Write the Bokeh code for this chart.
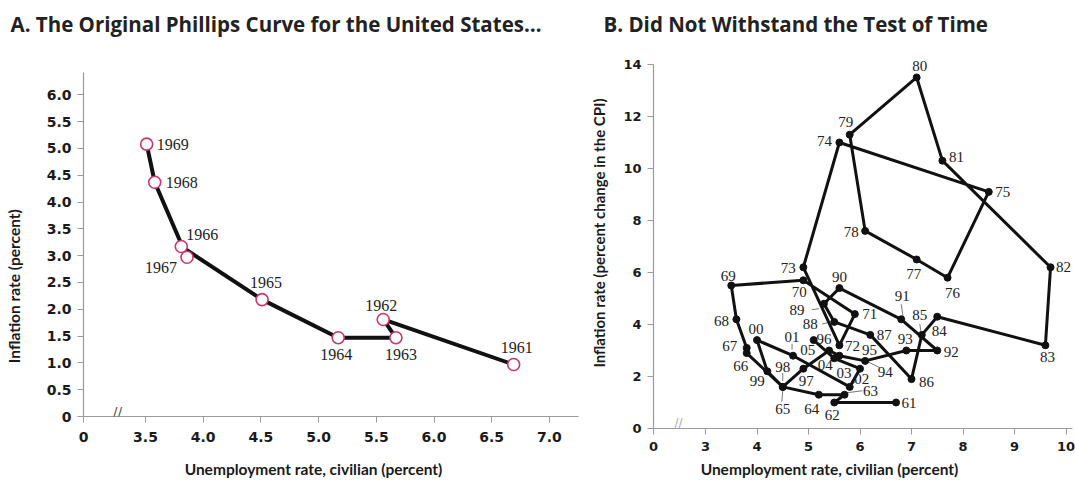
import math
from bokeh.plotting import figure
from bokeh.models import (ColumnDataSource, LabelSet, Label, FixedTicker, Range1d,
                          NumeralTickFormatter, LinearAxis)
from bokeh.layouts import row, column
from bokeh.embed import file_html
from bokeh.resources import INLINE

# ---------------- data: panel A (original Phillips curve, 1961-1969) ----------------
years_a = ["1961", "1962", "1963", "1964", "1965", "1966", "1967", "1968", "1969"]
unemp_a = [6.69, 5.56, 5.67, 5.17, 4.51, 3.81, 3.86, 3.58, 3.51]
infl_a = [0.97, 1.81, 1.47, 1.47, 2.18, 3.17, 2.97, 4.37, 5.08]
a_xticks = [3.5, 4.0, 4.5, 5.0, 5.5, 6.0, 6.5, 7.0]
a_yticks = [0, 0.5, 1.0, 1.5, 2.0, 2.5, 3.0, 3.5, 4.0, 4.5, 5.0, 5.5, 6.0]

# ---------------- data: panel B (1961-2005) ----------------
years_b = ["61", "62", "63", "64", "65", "66", "67", "68", "69", "70",
           "71", "72", "73", "74", "75", "76", "77", "78", "79", "80",
           "81", "82", "83", "84", "85", "86", "87", "88", "89", "90",
           "91", "92", "93", "94", "95", "96", "97", "98", "99", "00",
           "01", "02", "03", "04", "05"]
unemp_b = [6.7, 5.5, 5.7, 5.2, 4.5, 3.8, 3.8, 3.6, 3.5, 4.9,
           5.9, 5.6, 4.9, 5.6, 8.5, 7.7, 7.1, 6.1, 5.8, 7.1,
           7.6, 9.7, 9.6, 7.5, 7.2, 7.0, 6.2, 5.5, 5.3, 5.6,
           6.8, 7.5, 6.9, 6.1, 5.6, 5.4, 4.9, 4.5, 4.2, 4.0,
           4.7, 5.8, 6.0, 5.5, 5.1]
infl_b = [1.0, 1.0, 1.3, 1.3, 1.6, 2.9, 3.1, 4.2, 5.5, 5.7,
          4.4, 3.2, 6.2, 11.0, 9.1, 5.8, 6.5, 7.6, 11.3, 13.5,
          10.3, 6.2, 3.2, 4.3, 3.6, 1.9, 3.6, 4.1, 4.8, 5.4,
          4.2, 3.0, 3.0, 2.6, 2.8, 3.0, 2.3, 1.6, 2.2, 3.4,
          2.8, 1.6, 2.3, 2.7, 3.4]
b_xticks = [3, 4, 5, 6, 7, 8, 9, 10]
b_yticks = [0, 2, 4, 6, 8, 10, 12, 14]

# ---------------- layout constants (pixels, page = canvas) ----------------
H = 480
FRAME_TOP = 42
A_BOT, B_BOT = 418, 429
WA, WB = 580, 495
A_LEFT, A_RIGHT = 83, 578          # frame edges of panel A (page px)
B_LEFT, B_RIGHT = 653, 1072        # frame edges of panel B (page px)

# panel A scale: 3.5 -> 145 px, 115.4 px/unit ; y 0 -> 418 px, 53.9 px/unit
A_SX, A_SY = 115.4, 53.9
A_X0 = 3.5 - (145 - A_LEFT) / A_SX
A_X1 = 3.5 + (A_RIGHT - 145) / A_SX
A_Y1 = (A_BOT - FRAME_TOP) / A_SY
A_YTOP = 6.41                      # top of drawn y axis line
# panel B scale: 3 -> 705 px, 51.5 px/unit ; y 0 -> 429 px, 26.07 px/unit
B_SX, B_SY = 51.5, 26.07
B_X0 = 3 - (705 - B_LEFT) / B_SX
B_X1 = 3 + (B_RIGHT - 705) / B_SX
B_Y1 = (B_BOT - FRAME_TOP) / B_SY
B_YTOP = 14.0

# label offsets (pixels, right / down positive)
a_off = {"1961": (3, -17), "1962": (-2, -14), "1963": (5, 17), "1964": (-2, 17),
         "1965": (4, -17), "1966": (21, -12), "1967": (-26, 10), "1968": (27, 0),
         "1969": (26, 0)}
b_off = {"61": (13, 1), "62": (-2, 13), "63": (26, -4), "64": (-7, 14), "65": (0, 22),
         "66": (-6, 13), "67": (-17, -2), "68": (-15, 2), "69": (-3, -9), "70": (-4, 12),
         "71": (15, 0), "72": (13, 1), "73": (-15, 1), "74": (-15, -1), "75": (14, 0),
         "76": (5, 15), "77": (-3, 15), "78": (-14, 1), "79": (-4, -13), "80": (3, -11),
         "81": (14, -4), "82": (13, 0), "83": (2, 12), "84": (2, 14), "85": (-2, -20),
         "86": (15, 3), "87": (14, 0), "88": (-24, 2), "89": (-27, 6), "90": (0, -11),
         "91": (1, -23), "92": (14, 2), "93": (-1, -11), "94": (20, 11), "95": (30, -6),
         "96": (-5, -11), "97": (3, 12), "98": (0, -20), "99": (-10, 10), "00": (-1, -11),
         "01": (-1, -19), "02": (12, -8), "03": (-16, 4), "04": (-9, 7), "05": (-6, 10)}
leaders = {"63": (3, -2, 18, -4), "65": (0, 4, -1, 15), "98": (0, -14, 0, -6),
           "85": (-2, -11, -1, -4), "91": (0, -15, 2, -2), "89": (-12, 6, -5, 5),
           "88": (-12, 2, -7, 1), "94": (3, 1, 15, 7), "01": (-1, -12, -1, -6),
           "02": (3, -3, 7, -6)}

TICK_FONT = "DejaVu Sans"
TITLE_FONT = "Open Sans"
AXT_FONT = "Lato"
SERIF = "Liberation Serif"
AXIS_GREY = "#9a9a9a"


def style_axis(ax, size, standoff):
    ax.axis_line_color = AXIS_GREY
    ax.axis_line_width = 1.2
    ax.major_tick_line_color = AXIS_GREY
    ax.major_tick_out = 6
    ax.major_tick_in = 0
    ax.minor_tick_line_color = None
    ax.major_label_text_font = TICK_FONT
    ax.major_label_text_font_style = "bold"
    ax.major_label_text_font_size = size
    ax.major_label_text_color = "#1a1a1a"
    ax.major_label_standoff = standoff


def title_axis(text, pos, standoff, size, vertical=False):
    """A line-less, tick-less axis whose single label is the axis title at `pos`."""
    return LinearAxis(ticker=FixedTicker(ticks=[pos]), major_label_overrides={pos: text},
                      axis_line_color=None, major_tick_line_color=None,
                      minor_tick_line_color=None, major_label_standoff=standoff,
                      major_label_orientation=("parallel" if vertical else "horizontal"),
                      major_label_text_font=AXT_FONT, major_label_text_font_style="bold",
                      major_label_text_font_size=size, major_label_text_color="#1a1a1a")


def base_fig(width, title, x0, x1, y1, left, right, bottom, title_offset):
    p = figure(width=width, height=H, x_range=Range1d(x0, x1), y_range=Range1d(0, y1),
               output_backend="svg", toolbar_location=None, title=title,
               min_border_left=left, min_border_right=width - right,
               min_border_top=FRAME_TOP, min_border_bottom=H - bottom)
    p.title.align = "left"
    p.title.offset = title_offset
    p.title.text_font = TITLE_FONT
    p.title.text_font_style = "bold"
    p.title.text_font_size = "20.5px"
    p.title.text_color = "#222222"
    p.xgrid.visible = False
    p.ygrid.visible = False
    p.outline_line_color = None
    p.background_fill_color = "white"
    p.border_fill_color = "white"
    return p


# ---------------- panel A ----------------
pA = base_fig(WA, "A. The Original Phillips Curve for the United States\u2026",
              A_X0, A_X1, A_Y1, A_LEFT, A_RIGHT, A_BOT, 10 - A_LEFT)
xa, ya = pA.xaxis[0], pA.yaxis[0]
style_axis(xa, "14px", 9)
style_axis(ya, "14px", 6)
xa.ticker = FixedTicker(ticks=[A_X0] + a_xticks)
xa.formatter = NumeralTickFormatter(format="0.0")
xa.major_label_overrides = {A_X0: "0"}
ya.ticker = FixedTicker(ticks=a_yticks)
ya.formatter = NumeralTickFormatter(format="0.0")
ya.major_label_overrides = {0: "0"}
ya.bounds = (0, A_YTOP)
pA.add_layout(title_axis("Inflation rate (percent)", (A_BOT - 287) / A_SY, 14, "15.5px",
                         vertical=True), "left")
pA.add_layout(title_axis("Unemployment rate, civilian (percent)",
                         3.5 + (313 - 145) / A_SX, 9, "15.5px"), "below")

srcA = ColumnDataSource(dict(x=unemp_a, y=infl_a, t=years_a,
                             dx=[a_off[k][0] for k in years_a],
                             dy=[-a_off[k][1] for k in years_a]))
pA.line("x", "y", source=srcA, line_width=4, line_color="#111111", line_join="round")
pA.scatter("x", "y", source=srcA, size=12, marker="circle", fill_color="white",
           line_color="#c8366f", line_width=1.6)
pA.add_layout(LabelSet(x="x", y="y", text="t", source=srcA, x_offset="dx", y_offset="dy",
                       text_align="center", text_baseline="middle", text_font=SERIF,
                       text_font_size="16px", text_color="#222222"))
pA.add_layout(Label(x=A_X0, y=0, x_offset=117 - A_LEFT, y_offset=5, text="//",
                    text_font="DejaVu Sans", text_font_size="14px", text_color="#555555",
                    text_align="center", text_baseline="middle"))

# ---------------- panel B ----------------
pB = base_fig(WB, "B. Did Not Withstand the Test of Time",
              B_X0, B_X1, B_Y1, B_LEFT - WA, B_RIGHT - WA, B_BOT, 603 - B_LEFT)
xb, yb = pB.xaxis[0], pB.yaxis[0]
style_axis(xb, "13px", 7)
style_axis(yb, "13px", 6)
xb.ticker = FixedTicker(ticks=[B_X0] + b_xticks)
xb.major_label_overrides = {B_X0: "0"}
yb.ticker = FixedTicker(ticks=b_yticks)
yb.bounds = (0, B_YTOP)
pB.add_layout(title_axis("Inflation rate (percent change in the CPI)",
                         (B_BOT - 233) / B_SY, 6, "15px", vertical=True), "left")
pB.add_layout(title_axis("Unemployment rate, civilian (percent)",
                         3 + (829 - 705) / B_SX, 0, "15.5px"), "below")

srcB = ColumnDataSource(dict(x=unemp_b, y=infl_b, t=years_b,
                             dx=[b_off[k][0] for k in years_b],
                             dy=[-b_off[k][1] for k in years_b]))
lk = [k for k in years_b if k in leaders]
li = [years_b.index(k) for k in lk]
srcL = ColumnDataSource(dict(
    x0=[unemp_b[i] + leaders[k][0] / B_SX for i, k in zip(li, lk)],
    y0=[infl_b[i] - leaders[k][1] / B_SY for i, k in zip(li, lk)],
    x1=[unemp_b[i] + leaders[k][2] / B_SX for i, k in zip(li, lk)],
    y1=[infl_b[i] - leaders[k][3] / B_SY for i, k in zip(li, lk)]))
pB.segment("x0", "y0", "x1", "y1", source=srcL, line_color="#777777", line_width=1)
pB.line("x", "y", source=srcB, line_width=3, line_color="#111111", line_join="round")
pB.scatter("x", "y", source=srcB, size=7, marker="circle", fill_color="#111111",
           line_color="#111111")
pB.add_layout(LabelSet(x="x", y="y", text="t", source=srcB, x_offset="dx", y_offset="dy",
                       text_align="center", text_baseline="middle", text_font=SERIF,
                       text_font_size="15px", text_color="#222222"))
pB.add_layout(Label(x=B_X0, y=0, x_offset=678 - B_LEFT, y_offset=6, text="//",
                    text_font="DejaVu Sans", text_font_size="12px", text_color="#aaaaaa",
                    text_align="center", text_baseline="middle"))

layout = row(column(pA), column(pB))
open("out.html", "w").write(file_html(layout, INLINE))
